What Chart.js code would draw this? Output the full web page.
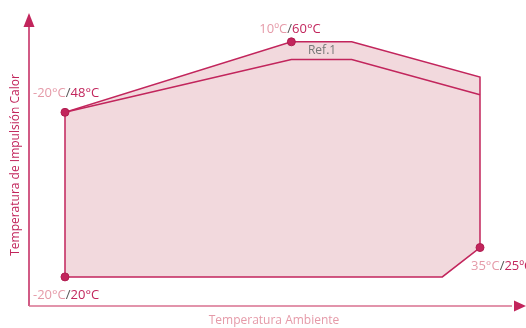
<!DOCTYPE html>
<html>
<head>
<meta charset="utf-8">
<script src="https://cdn.jsdelivr.net/npm/chart.js@4.4.0/dist/chart.umd.min.js"></script>
<style>
  html, body { margin: 0; padding: 0; background: #fff; }
  #wrap { width: 526px; height: 328px; }
</style>
</head>
<body>
<div id="wrap"><canvas id="envelope"></canvas></div>
<script>
// Operating envelope (outer) - ambient temp / supply temp
const outerX = [-20, -20, 10, 18, 35, 35, 30, -20];
const outerY = [20, 48, 60, 60, 54, 25, 20, 20];

// Ref.1 inner limit line
const refX = [-20, 10, 18, 35];
const refY = [48, 57, 57, 51];

// Marked points with labels: [ambient, supply]
const markedPoints = [[-20, 48], [10, 60], [-20, 20], [35, 25]];
const pointLabels = [
    ['-20°C', '48°C'],
    ['10ºC', '60°C'],
    ['-20°C', '20°C'],
    ['35°C', '25ºC']
];

const yTitle = 'Temperatura de Impulsión Calor';
const xTitle = 'Temperatura Ambiente';
const refLabel = 'Ref.1';

const crimson = '#c2255c';
const lightPink = '#e59aa8';
const fontFamily = '"Open Sans", sans-serif';

const outerData = outerX.map((x, i) => ({ x: x, y: outerY[i] }));
const refData = refX.map((x, i) => ({ x: x, y: refY[i] }));
const markData = markedPoints.map(p => ({ x: p[0], y: p[1] }));

// Axes with arrows and text labels
const decorPlugin = {
    id: 'decor',
    afterDraw(chart) {
        const ctx = chart.ctx;
        const area = chart.chartArea;
        const xs = chart.scales.x;
        const ys = chart.scales.y;
        ctx.save();

        // axis lines
        ctx.lineWidth = 1.5;
        ctx.strokeStyle = crimson;
        ctx.beginPath();
        ctx.moveTo(area.left, area.bottom);
        ctx.lineTo(area.left, area.top + 10);
        ctx.stroke();
        ctx.strokeStyle = '#d9708f';
        ctx.beginPath();
        ctx.moveTo(area.left, area.bottom);
        ctx.lineTo(area.right - 8, area.bottom);
        ctx.stroke();

        // arrow heads
        ctx.fillStyle = crimson;
        ctx.beginPath();
        ctx.moveTo(area.left, area.top);
        ctx.lineTo(area.left - 5.5, area.top + 14);
        ctx.lineTo(area.left + 5.5, area.top + 14);
        ctx.closePath();
        ctx.fill();
        ctx.beginPath();
        ctx.moveTo(area.right + 6, area.bottom);
        ctx.lineTo(area.right - 6, area.bottom - 5.5);
        ctx.lineTo(area.right - 6, area.bottom + 5.5);
        ctx.closePath();
        ctx.fill();

        // axis titles
        ctx.font = '12px ' + fontFamily;
        ctx.textAlign = 'center';
        ctx.textBaseline = 'middle';
        ctx.fillStyle = lightPink;
        ctx.fillText(xTitle, 274, 321);
        ctx.save();
        ctx.translate(16, 165);
        ctx.rotate(-Math.PI / 2);
        ctx.fillStyle = crimson;
        ctx.fillText(yTitle, 0, 0);
        ctx.restore();

        // point labels: light part / dark slash / crimson part
        const offsets = [[-32, -19], [-32, -13], [-32, 18], [-9, 19]];
        ctx.font = '13px ' + fontFamily;
        ctx.textAlign = 'left';
        markedPoints.forEach((p, i) => {
            const px = xs.getPixelForValue(p[0]) + offsets[i][0];
            const py = ys.getPixelForValue(p[1]) + offsets[i][1];
            const a = pointLabels[i][0];
            const b = pointLabels[i][1];
            ctx.fillStyle = lightPink;
            ctx.fillText(a, px, py);
            let w = ctx.measureText(a).width;
            ctx.fillStyle = '#555';
            ctx.fillText('/', px + w, py);
            w += ctx.measureText('/').width;
            ctx.fillStyle = crimson;
            ctx.fillText(b, px + w, py);
        });

        // Ref.1 label
        ctx.fillStyle = '#777';
        ctx.font = '12px ' + fontFamily;
        ctx.fillText(refLabel, xs.getPixelForValue(12.2), ys.getPixelForValue(58.5));

        ctx.restore();
    }
};

const chart = new Chart(document.getElementById('envelope'), {
    type: 'scatter',
    data: {
        datasets: [
            {
                data: outerData,
                showLine: true,
                borderColor: crimson,
                borderWidth: 1.5,
                backgroundColor: 'rgba(226, 170, 180, 0.45)',
                fill: 'shape',
                pointRadius: 0,
                tension: 0,
                order: 3
            },
            {
                data: refData,
                showLine: true,
                borderColor: crimson,
                borderWidth: 1.5,
                fill: false,
                pointRadius: 0,
                tension: 0,
                order: 2
            },
            {
                data: markData,
                showLine: false,
                pointRadius: 4,
                pointBackgroundColor: crimson,
                pointBorderColor: '#b01d50',
                pointBorderWidth: 1,
                order: 1
            }
        ]
    },
    options: {
        responsive: true,
        maintainAspectRatio: false,
        animation: false,
        layout: { padding: { left: 29, right: 6, top: 13, bottom: 22 } },
        plugins: {
            legend: { display: false },
            tooltip: { enabled: false }
        },
        scales: {
            x: { type: 'linear', display: false, min: -24.77, max: 40.3 },
            y: { type: 'linear', display: false, min: 15.05, max: 64.9 }
        }
    },
    plugins: [decorPlugin]
});
</script>
</body>
</html>
